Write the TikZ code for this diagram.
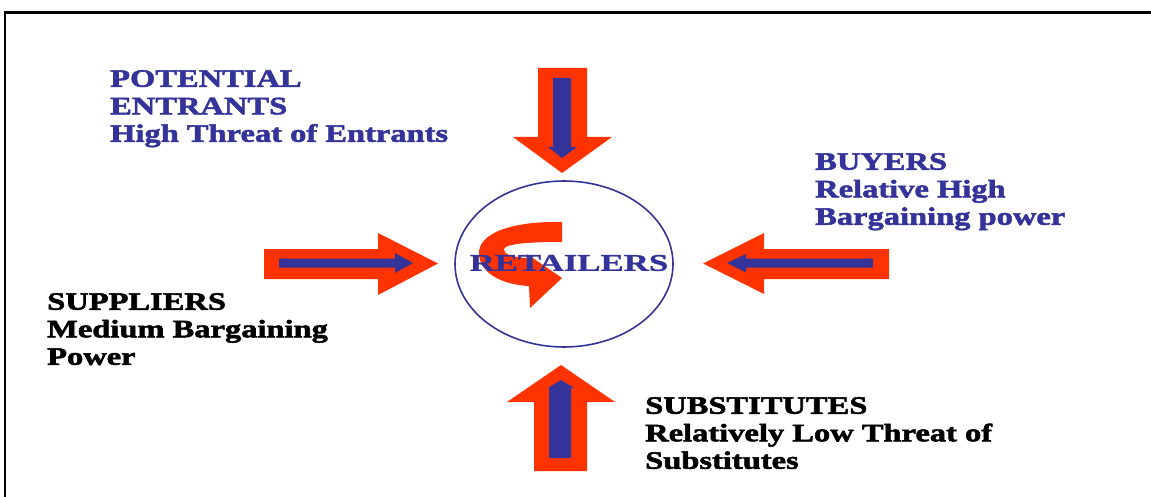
\documentclass[tikz,border=0pt]{standalone}
\usepackage{fontspec}
\setmainfont{Liberation Serif}
\newfontfamily\heavyfont{Liberation Serif Bold}[FakeBold=2.2,FakeStretch=1.3]
\newfontfamily\retfont{Liberation Serif Bold}[FakeBold=1.2,FakeStretch=1.45]
\usetikzlibrary{shapes.geometric}
\definecolor{fblue}{HTML}{333399}
\definecolor{forange}{HTML}{FF3300}
\begin{document}
\begin{tikzpicture}[x=1pt,y=-1pt,
  orangebody/.style={fill=forange,draw=none},
  bluebody/.style={fill=fblue,draw=none},
  lbl/.style={anchor=north west,inner sep=0pt,align=left,font=\heavyfont\fontsize{25}{27.5}\selectfont},
  frame/.style={draw=black,line width=2.5pt}]
\useasboundingbox (0,0) rectangle (1151,497);
% frame
\draw[frame] (5,497) -- (5,12.5) -- (1151,12.5);
% central ellipse
\node[draw=fblue,line width=1.6pt,ellipse,minimum width=218pt,minimum height=166pt,inner sep=0pt] (ret) at (564,264) {};
% curved arrow inside
\fill[orangebody] (562,222) .. controls (515,221) and (477,232) .. (479,255)
   .. controls (481,275) and (505,285) .. (529,286) -- (530,308) -- (562,278) -- (527,254) -- (527,258)
   .. controls (512,257) and (503,254) .. (504,249)
   .. controls (506,243) and (535,242) .. (562,242) -- cycle;
\node[inner sep=0pt,text=fblue,font=\retfont\fontsize{24}{24}\selectfont] (rettext) at (569,263) {RETAILERS};
% left arrow (suppliers)
\fill[orangebody] (264,249) -- (378,249) -- (378,233) -- (438,263.5) -- (378,295) -- (378,279) -- (264,279) -- cycle;
\fill[bluebody] (279,258.5) -- (395,258.5) -- (395,253) -- (413,263) -- (395,273) -- (395,267.5) -- (279,267.5) -- cycle;
% right arrow (buyers)
\fill[orangebody] (889,249) -- (764,249) -- (764,233) -- (703,263.5) -- (764,294) -- (764,279) -- (889,279) -- cycle;
\fill[bluebody] (873,258.5) -- (746,258.5) -- (746,254) -- (727,263) -- (746,272.5) -- (746,267.5) -- (873,267.5) -- cycle;
% top arrow (entrants)
\fill[orangebody] (538,68) -- (587,68) -- (587,137) -- (612,137) -- (562,173) -- (513,137) -- (538,137) -- cycle;
\fill[bluebody] (553,78) -- (571,78) -- (571,147) -- (577,147) -- (562,158) -- (548,147) -- (553,147) -- cycle;
% bottom arrow (substitutes)
\fill[orangebody] (534,471) -- (587,471) -- (587,402) -- (615,402) -- (561,365) -- (507,402) -- (534,402) -- cycle;
\fill[bluebody] (549,458) -- (571,458) -- (571,388) -- (574,388) -- (561,380) -- (548,388) -- (549,388) -- cycle;
% labels
\node[lbl,text=fblue] (entrants) at (110,70) {POTENTIAL\\ENTRANTS\\High Threat of Entrants};
\node[lbl,text=fblue] (buyers) at (815,153) {BUYERS\\Relative High\\Bargaining power};
\node[lbl,text=black] (suppliers) at (47,293) {SUPPLIERS\\Medium Bargaining\\Power};
\node[lbl,text=black] (substitutes) at (645,397) {SUBSTITUTES\\Relatively Low Threat of\\Substitutes};
\end{tikzpicture}
\end{document}
